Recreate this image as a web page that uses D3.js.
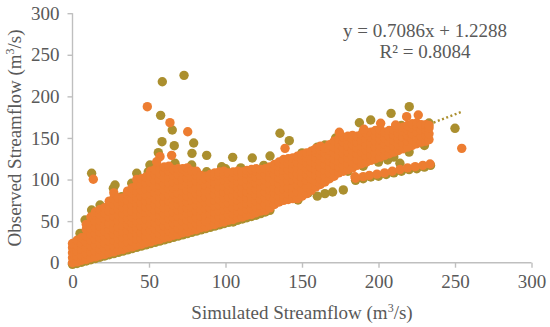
<!DOCTYPE html>
<html>
<head>
<meta charset="utf-8">
<script src="https://cdn.jsdelivr.net/npm/d3@7"></script>
<style>
  html, body { margin: 0; padding: 0; background: #fff; }
  svg text { font-family: "Liberation Serif", "Times New Roman", serif; fill: #595959; }
</style>
</head>
<body>
<svg id="chart" width="550" height="327"></svg>
<script>
// ---- data ----
const xTicks = [0, 50, 100, 150, 200, 250, 300];
const yTicks = [0, 50, 100, 150, 200, 250, 300];
const xTitle = "Simulated Streamflow";
const yTitle = "Observed Streamflow";
const equationText = "y = 0.7086x + 1.2288";
const r2Text = "R² = 0.8084";
const trendSlope = 0.7086;
const trendIntercept = 1.2288;
const trendRange = [0, 254];

// dense cloud: [simulated, [observed values...]]
const cloudColumns = [
  [0,[0,6,12,18,23]],[3,[1,8,14,21,27]],[6,[3,9,16,23,30]],[9,[4,11,18,25,32,40,46]],
  [12,[6,13,20,27,34,41,48,55]],[15,[7,14,21,28,35,42,50,57,61]],[18,[9,16,23,30,37,44,51,58,64]],
  [21,[10,17,24,31,38,45,53,60,66]],[24,[12,19,26,33,40,47,55,62,69,74]],
  [27,[13,20,27,34,41,49,56,63,70,77,84]],[30,[15,22,29,36,43,50,57,64,71,78]],
  [33,[16,23,30,37,45,52,59,66,73,78]],[36,[18,25,32,39,46,53,61,68,75,82,86]],
  [39,[19,26,33,41,48,55,62,69,77,84,90]],[42,[21,28,35,42,49,57,64,71,78,85,93,100]],
  [45,[22,29,36,44,51,58,65,72,80,87,94,101]],[48,[24,31,38,45,52,60,67,74,81,88,96,103]],
  [51,[25,32,39,47,54,61,68,75,83,90,97,104,110]],[54,[27,34,41,48,55,63,70,77,84,91,99,106,112]],
  [57,[28,35,42,50,57,64,71,78,86,93,100,107,114]],[60,[30,37,44,51,58,66,73,80,87,94,102,109,115]],
  [63,[31,38,45,53,60,67,74,81,89,96,103,110,116]],[66,[33,40,47,54,61,69,76,83,90,97,105,112]],
  [69,[34,41,48,56,63,70,77,84,92,99,106,113]],[72,[36,43,50,57,64,72,79,86,93,100,108,113]],
  [75,[37,44,51,59,66,73,80,87,95,102,109,114]],[78,[39,46,53,60,67,75,82,89,96,103,110]],
  [81,[40,47,54,62,69,76,83,90,98,105,110]],[84,[42,49,56,63,70,78,85,92,99,105]],
  [87,[43,50,57,65,72,79,86,93,101,104]],[90,[45,52,59,66,73,81,88,95,102,106]],
  [93,[46,53,60,68,75,82,89,96,104,108]],[96,[48,55,62,69,76,84,91,98,105,109]],
  [99,[49,56,63,71,78,85,92,99,106,110]],[102,[51,58,65,72,79,87,94,101,108]],
  [105,[52,59,66,74,81,88,95,102,109]],[108,[54,61,68,75,82,90,97,104,110]],
  [111,[55,62,69,77,84,91,98,105,109]],[114,[57,64,71,78,85,93,100,107,111]],
  [117,[58,65,72,80,87,94,101,108,112]],[120,[60,67,74,81,88,96,103,110,113]],
  [123,[62,69,76,83,91,98,105,112]],[126,[63,70,78,85,92,99,106,113]],
  [129,[66,73,80,87,95,102,109,115]],[132,[70,77,84,91,98,106,113,118]],
  [135,[73,80,87,95,102,109,116,121]],[138,[75,82,89,96,104,111,118,124]],
  [141,[76,83,90,98,105,112,119,125]],[144,[77,84,91,99,106,113,120,126]],
  [147,[77,85,93,100,107,114,121,128]],[150,[80,88,96,103,110,117,124,130]],
  [153,[83,91,99,106,113,120,127,132]],[156,[87,94,101,108,115,122,129,134]],
  [159,[91,98,105,112,119,126,133,137]],[162,[94,101,108,115,122,129,136,140]],
  [165,[97,104,111,118,125,132,138]],[168,[101,108,115,122,129,136,142]],
  [171,[104,111,118,125,132,139,146]],[174,[108,115,122,129,136,143,149]],
  [177,[110,117,124,131,138,145,151]],[180,[112,119,126,133,140,147,152]],
  [183,[114,121,128,135,142,149,153]],[186,[117,124,131,138,145,152]],
  [189,[119,126,133,140,147,154]],[192,[121,128,135,142,149,156]],
  [195,[123,130,137,144,151,157]],[198,[125,132,139,146,153,159]],
  [201,[127,134,141,148,155,160]],[204,[129,136,143,150,157]],
  [207,[131,138,145,152,159]],[210,[133,140,147,154,160]],
  [213,[135,142,149,156,162]],[216,[137,144,151,158,163]],
  [219,[139,146,153,160,165]],[222,[141,148,155,162,167]],
  [225,[143,150,157,164,168]],[228,[145,152,159,166]],
  [231,[146,153,160,166]],[233,[148,155,162,165]]
];

// olive points along the lower edge of the cloud
const oliveLowerEdge = [
  [0,-2],[3,-1],[6,0.5],[9,2],[12,3.5],[15,5],[18,6.5],[21,8],[24,9.5],[27,11],[30,12.5],
  [33,14],[36,15.5],[39,17],[42,18.5],[45,20],[48,21.5],[51,23],[54,24.5],[57,26],[60,27.5],
  [63,29],[66,30.5],[69,32],[72,33.5],[75,35],[78,36.5],[81,38],[84,39.5],[87,41],[90,42.5],
  [93,44],[96,45.5],[99,47],[102,48.5],[105,49],[108,51],[111,52.5],[114,54],[117,55.5],
  [120,57],[123,59],[126,61],[129,63],[122.5,65.4],[135.6,77.4],[147.4,75.4],[154,83.8],
  [180,110],[190,116],[200,121],[210,127],[220,133],[230,141]
];

// olive points along the upper edge of the cloud
const oliveUpperEdge = [
  [4.9,35.3],[8.2,51.4],[12.5,63.4],[18,69.4],[26.7,89.4],[27.8,93.4],[32.2,79.4],[38.7,95.5],
  [42,107.5],[49.5,109.4],[67,119.5],[77.9,117.5],[87.7,109.4],[100,113],[110,114],[125,117],
  [150,132],[160,139],[172,150],[190,158],[215,165],[233,168]
];

// olive outliers
const oliveOutliers = [
  [58.7,217.6],[72.9,225.3],[57.6,177.2],[65.2,159.5],[58.5,145.5],[66.5,140.7],[79.2,143.9],
  [56.1,132.3],[78.1,131.5],[87.7,129.1],[104.7,126.7],[117.5,125.9],[129.1,128.3],
  [12.5,107.5],[135.6,155.6],[141.7,146.7],[97.5,115.4],[149.8,130.7],[165,141.5],
  [157.4,134.7],[220.1,187.6],[208.2,179.6],[187.5,168.3],[194.9,171.6],[250,161.6],
  [50.6,117.5],[206,123.5],[214,119.5]
];

// orange outliers
const orangeOutliers = [
  [48.9,187.6],[63.7,168.4],[75.3,157.5],[64.8,129.1],[57.2,127.5],[138.9,137.5],
  [174.4,156.8],[226,177.6],[201.4,167.6],[190.5,160.4],[211.2,165.6],[218.4,175.6],
  [55,121.4],[13.6,100.3],[254.4,137.5]
];

// separate lower band on the right
const lowerBandOlive = [
  [160,80],[165,83],[170,85],[177,87.5],[185,99],[190,101],[195,103],[200,104],[205,106],
  [210,108],[215,110],[220,112],[225,113],[230,115],[234,117]
];
const lowerBandOrange = [
  [185,101.5],[190,103.5],[194,105],[199,106.5],[204,108],[209,110],[214,112],
  [219,114],[224,115.5],[229,117],[233.7,118.7],[184.6,103.4]
];

// ---- drawing ----
const svg = d3.select("#chart");
const x = d3.scaleLinear().domain([0, 300]).range([72.5, 531.5]);
const y = d3.scaleLinear().domain([0, 300]).range([262.7, 13.2]);

const olive = "#AB8F2E";
const orange = "#ED7D31";
const axisColor = "#BFBFBF";
const R = 4.7;

// axes
const xAxis = d3.axisBottom(x).tickValues(xTicks).tickSize(5).tickPadding(7).tickFormat(d3.format("d"));
const yAxis = d3.axisLeft(y).tickValues(yTicks).tickSize(5).tickPadding(8).tickFormat(d3.format("d"));

const gx = svg.append("g").attr("transform", `translate(0,${y(0)})`).call(xAxis);
const gy = svg.append("g").attr("transform", `translate(${x(0)},0)`).call(yAxis);
[gx, gy].forEach(g => {
  g.select(".domain").attr("stroke", axisColor).attr("stroke-width", 1.4);
  g.selectAll(".tick line").attr("stroke", axisColor).attr("stroke-width", 1.4);
  g.selectAll(".tick text").style("font-size", "19px").attr("fill", "#595959")
    .style("font-family", "'Liberation Serif', 'Times New Roman', serif");
});
gx.select(".domain").attr("d", `M${x(0)},0H${x(300)}`);
gy.select(".domain").attr("d", `M0,${y(0)}V${y(300)}`);

// trendline (under the points)
svg.append("line")
  .attr("x1", x(trendRange[0])).attr("y1", y(trendSlope * trendRange[0] + trendIntercept))
  .attr("x2", x(trendRange[1])).attr("y2", y(trendSlope * trendRange[1] + trendIntercept))
  .attr("stroke", olive).attr("stroke-width", 2.4).attr("stroke-dasharray", "2,2.5");

function dots(data, color) {
  svg.append("g").selectAll("circle").data(data).join("circle")
    .attr("cx", d => x(d[0])).attr("cy", d => y(d[1])).attr("r", R).attr("fill", color);
}

const cloudPoints = cloudColumns.flatMap(([sx, ys]) => ys.map(v => [sx, v]));

dots(oliveLowerEdge, olive);
dots(oliveUpperEdge, olive);
dots(lowerBandOlive, olive);
dots(oliveOutliers, olive);
dots(cloudPoints, orange);
dots(lowerBandOrange, orange);
dots(orangeOutliers, orange);

// equation
svg.append("text").attr("x", 425).attr("y", 36.5).attr("text-anchor", "middle")
  .style("font-size", "19px").text(equationText);
svg.append("text").attr("x", 425).attr("y", 58.3).attr("text-anchor", "middle")
  .style("font-size", "19px").text(r2Text);

// axis titles with superscript
function unitTitle(sel, label) {
  sel.append("tspan").text(label + " (m");
  sel.append("tspan").text("3").style("font-size", "12px").attr("dy", -7);
  sel.append("tspan").text("/s)").attr("dy", 7);
}
const xt = svg.append("text").attr("x", (x(0) + x(300)) / 2).attr("y", 319)
  .attr("text-anchor", "middle").style("font-size", "19px");
unitTitle(xt, xTitle);
const yt = svg.append("text").attr("transform", `translate(20.5,${(y(0) + y(300)) / 2}) rotate(-90)`)
  .attr("text-anchor", "middle").style("font-size", "19px");
unitTitle(yt, yTitle);
</script>
</body>
</html>
